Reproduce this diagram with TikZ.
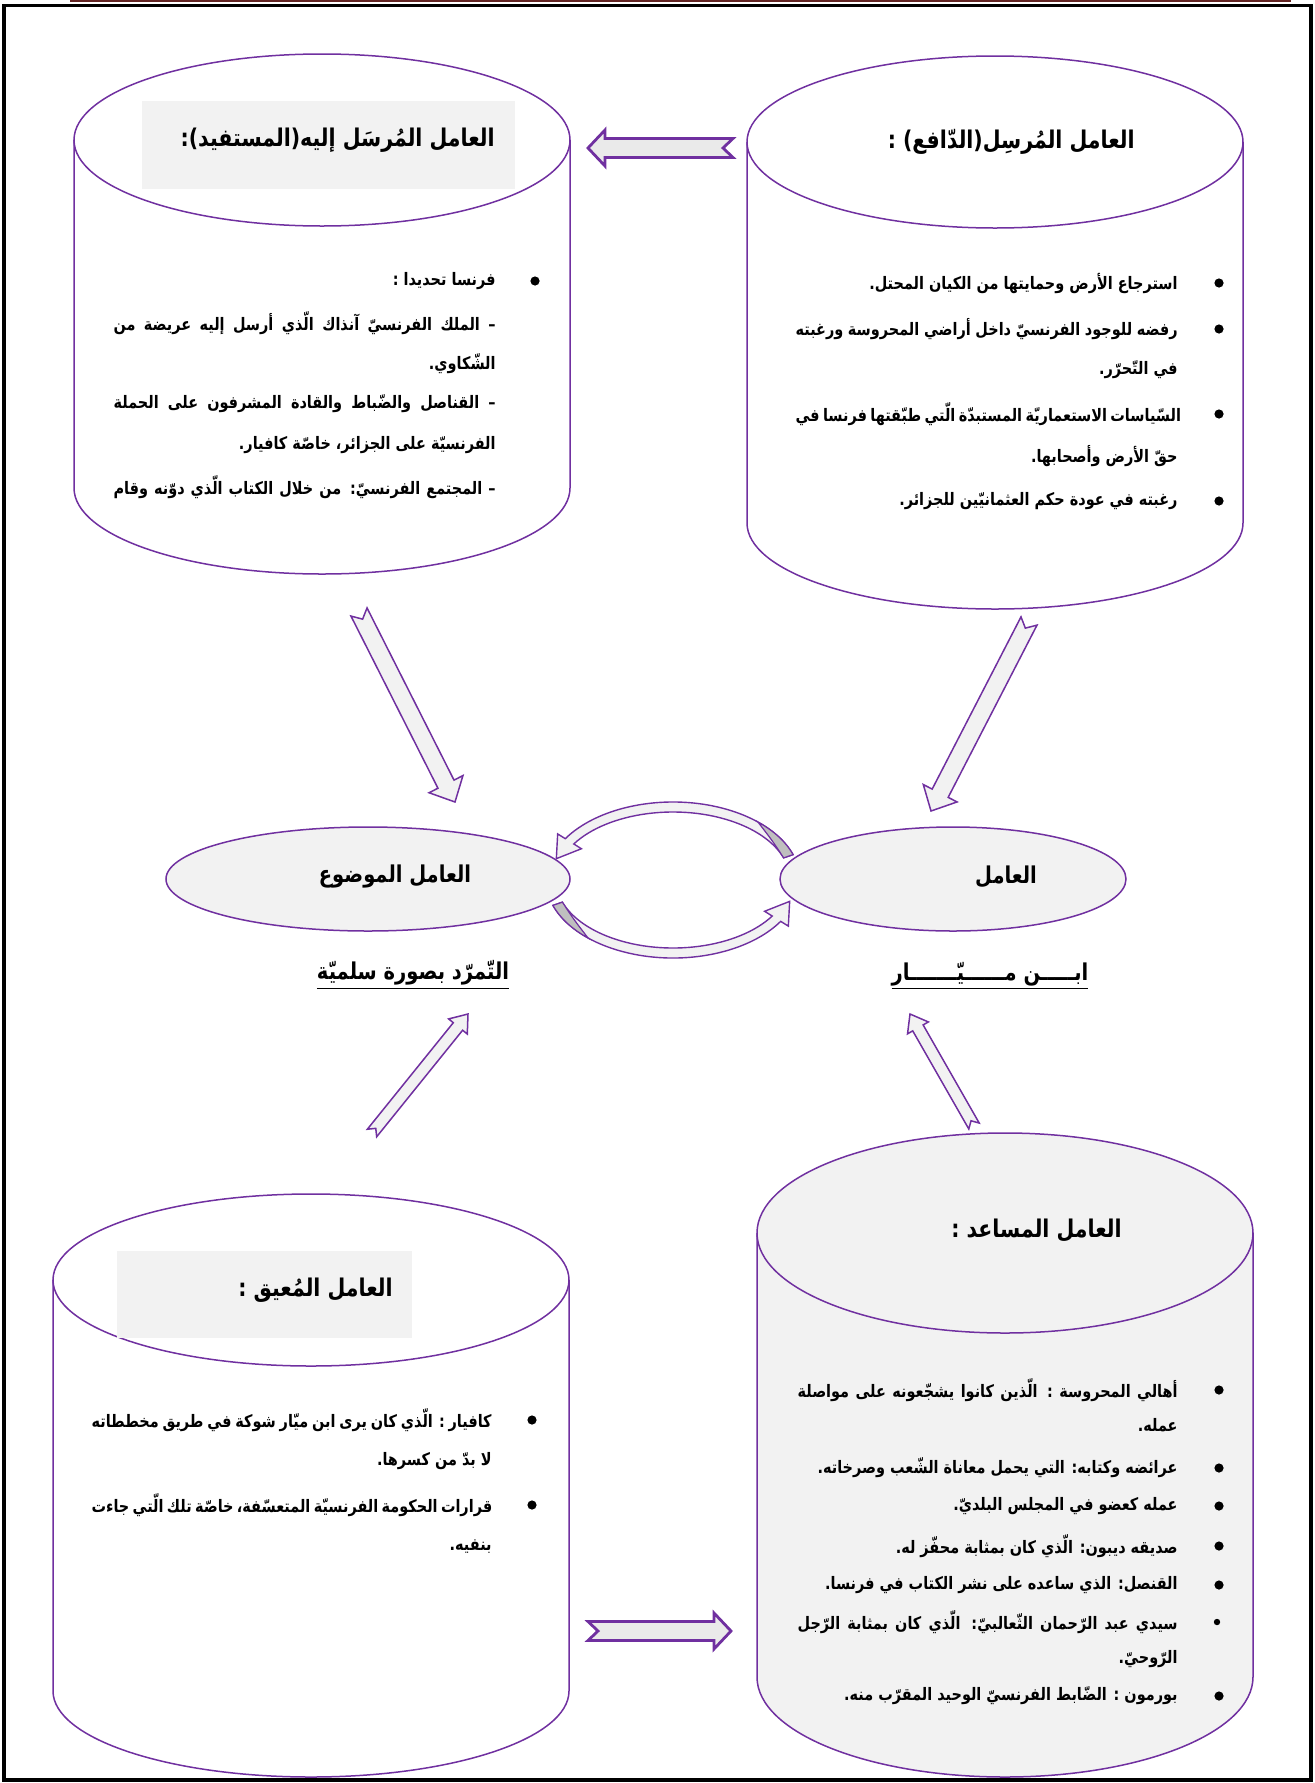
\documentclass[tikz,border=0pt]{standalone}
\usepackage{fontspec}
\usetikzlibrary{calc,shapes.geometric}
\TeXXeTstate=1
\newfontfamily\arabicfont[Script=Arabic,FakeStretch=0.84]{DejaVu Sans}
\definecolor{vio}{HTML}{7030A0}
\definecolor{lg}{HTML}{F2F2F2}
\definecolor{hg}{HTML}{EAEAEA}
\definecolor{ag}{HTML}{BFBFBF}
\definecolor{dred}{HTML}{632423}
% block arrow: style, tail, tip, half shaft, half head, head length, notch
\newcommand\blockarrow[7]{%
  \coordinate (hb) at ($(#3)!#6!(#2)$);
  \coordinate (nt) at ($(#2)!#7!(#3)$);
  \path[#1] ($(#2)!#4!90:(#3)$) -- ($(hb)!#4!90:(#3)$) -- ($(hb)!#5!90:(#3)$) -- (#3)
    -- ($(hb)!#5!-90:(#3)$) -- ($(hb)!#4!-90:(#3)$) -- ($(#2)!#4!-90:(#3)$) -- (nt) -- cycle;}
\begin{document}
\begin{tikzpicture}[x=0.5pt,y=-0.5pt,
  cyl/.style={draw=vio, line width=0.75pt},
  body/.style={font=\arabicfont\bfseries\fontsize{8.6}{10}\selectfont, inner sep=0pt, anchor=east},
  ttl/.style={font=\arabicfont\bfseries\fontsize{12.2}{14}\selectfont, inner sep=0pt, anchor=east},
  midt/.style={font=\arabicfont\bfseries\fontsize{11.6}{14}\selectfont, inner sep=0pt},
  bul/.style={circle, fill=black, inner sep=0pt, minimum size=4.6pt},
  sbul/.style={circle, fill=black, inner sep=0pt, minimum size=3.2pt},
  ellnode/.style={ellipse, draw=vio, fill=lg, line width=0.75pt, inner sep=0pt},
  barrow/.style={draw=vio, fill=lg, line width=0.75pt, line join=miter},
  harrow/.style={draw=vio, fill=hg, line width=1.4pt, line join=miter},
  carrow/.style={draw=vio, fill=lg, line width=0.7pt, line join=miter},
]
\useasboundingbox (0,0) rectangle (1315,1783);
% frame
\draw[dred, line width=1pt] (70,1) -- (1291,1);
\draw[line width=1.6pt] (4,5.5) rectangle (1311,1780);

% ---------- top-left cylinder
\path[fill=white] (74,140) -- (74,488) arc[start angle=180,end angle=0,x radius=248,y radius=86] -- (570,140) -- cycle;
\draw[cyl] (74,140) -- (74,488) arc[start angle=180,end angle=0,x radius=248,y radius=86] -- (570,140);
\draw[cyl, fill=white] (322,140) ellipse[x radius=248, y radius=86];
\fill[lg] (142,101) rectangle (515,189);
\node[ttl] (tlT) at (495,140) {\beginR العامل المُرسَل إليه(المستفيد):\endR};
\node[bul] (tlb1) at (535,281) {};
\node[body] (tl1) at (496,281) {\beginR فرنسا تحديدا :\endR};
\node[body] (tl2) at (496,323) {\hbox to 191pt{\beginR – الملك الفرنسيّ آنذاك الّذي أرسل إليه عريضة من\endR}};
\node[body] (tl3) at (496,364) {\beginR الشّكاوي.\endR};
\node[body] (tl4) at (496,404) {\hbox to 191pt{\beginR – القناصل والضّباط والقادة المشرفون على الحملة\endR}};
\node[body] (tl5) at (496,445) {\beginR الفرنسيّة على الجزائر، خاصّة كافيار.\endR};
\node[body] (tl6) at (496,487) {\hbox to 191pt{\beginR – المجتمع الفرنسيّ: من خلال الكتاب الّذي دوّنه وقام\endR}};

% ---------- top-right cylinder
\path[fill=white] (747,142) -- (747,523) arc[start angle=180,end angle=0,x radius=248,y radius=86] -- (1243,142) -- cycle;
\draw[cyl] (747,142) -- (747,523) arc[start angle=180,end angle=0,x radius=248,y radius=86] -- (1243,142);
\draw[cyl, fill=white] (995,142) ellipse[x radius=248, y radius=86];
\node[ttl] (trT) at (1135,142) {\beginR العامل المُرسِل(الدّافع) :\endR};
\node[bul] (trb1) at (1219,283) {};
\node[body] (tr1) at (1178,283) {\beginR استرجاع الأرض وحمايتها من الكيان المحتل.\endR};
\node[bul] (trb2) at (1219,329) {};
\node[body] (tr2) at (1178,329) {\hbox to 191pt{\beginR رفضه للوجود الفرنسيّ داخل أراضي المحروسة ورغبته\endR}};
\node[body] (tr3) at (1178,370) {\beginR في التّحرّر.\endR};
\node[bul] (trb3) at (1219,414) {};
\node[body] (tr4) at (1178,414) {\hbox to 191pt{\beginR السّياسات الاستعماريّة المستبدّة الّتي طبّقتها فرنسا في\endR}};
\node[body] (tr5) at (1178,456) {\beginR حقّ الأرض وأصحابها.\endR};
\node[bul] (trb4) at (1219,501) {};
\node[body] (tr6) at (1178,501) {\beginR رغبته في عودة حكم العثمانيّين للجزائر.\endR};

% ---------- bottom-right cylinder
\path[fill=lg] (757,1233) -- (757,1677) arc[start angle=180,end angle=0,x radius=248,y radius=100] -- (1253,1233) -- cycle;
\draw[cyl] (757,1233) -- (757,1677) arc[start angle=180,end angle=0,x radius=248,y radius=100] -- (1253,1233);
\draw[cyl, fill=lg] (1005,1233) ellipse[x radius=248, y radius=100];
\node[ttl] (brT) at (1122,1230) {\beginR العامل المساعد :\endR};
\node[bul] (brb1) at (1219,1390) {};
\node[body] (br1) at (1178,1390) {\hbox to 190pt{\beginR أهالي المحروسة : الّذين كانوا يشجّعونه على مواصلة\endR}};
\node[body] (br2) at (1178,1425) {\beginR عمله.\endR};
\node[bul] (brb2) at (1219,1468) {};
\node[body] (br3) at (1178,1468) {\beginR عرائضه وكتابه: التي يحمل معاناة الشّعب وصرخاته.\endR};
\node[bul] (brb3) at (1219,1506) {};
\node[body] (br4) at (1178,1506) {\beginR عمله كعضو في المجلس البلديّ.\endR};
\node[bul] (brb4) at (1219,1546) {};
\node[body] (br5) at (1178,1546) {\beginR صديقه ديبون: الّذي كان بمثابة محفّز له.\endR};
\node[bul] (brb5) at (1219,1585) {};
\node[body] (br6) at (1178,1585) {\beginR القنصل: الذي ساعده على نشر الكتاب في فرنسا.\endR};
\node[sbul] (brb6) at (1217,1622) {};
\node[body] (br7) at (1178,1622) {\hbox to 190pt{\beginR سيدي عبد الرّحمان الثّعالبيّ: الّذي كان بمثابة الرّجل\endR}};
\node[body] (br8) at (1178,1659) {\beginR الرّوحيّ.\endR};
\node[bul] (brb7) at (1219,1696) {};
\node[body] (br9) at (1178,1696) {\beginR بورمون : الضّابط الفرنسيّ الوحيد المقرّب منه.\endR};

% ---------- bottom-left cylinder
\path[fill=white] (53,1280) -- (53,1691) arc[start angle=180,end angle=0,x radius=258,y radius=86] -- (569,1280) -- cycle;
\draw[cyl] (53,1280) -- (53,1691) arc[start angle=180,end angle=0,x radius=258,y radius=86] -- (569,1280);
\draw[cyl, fill=white] (311,1280) ellipse[x radius=258, y radius=86];
\fill[lg] (117,1251) rectangle (412,1338);
\node[ttl] (blT) at (393,1290) {\beginR العامل المُعيق :\endR};
\node[bul] (blb1) at (532,1420) {};
\node[body] (bl1) at (492,1420) {\hbox to 200pt{\beginR كافيار : الّذي كان يرى ابن ميّار شوكة في طريق مخططاته\endR}};
\node[body] (bl2) at (492,1461) {\beginR لا بدّ من كسرها.\endR};
\node[bul] (blb2) at (532,1505) {};
\node[body] (bl3) at (492,1505) {\hbox to 200pt{\beginR قرارات الحكومة الفرنسيّة المتعسّفة، خاصّة تلك الّتي جاءت\endR}};
\node[body] (bl4) at (492,1547) {\beginR بنفيه.\endR};

% ---------- middle ellipses
\node[ellnode, minimum width=202pt, minimum height=52pt] (objE) at (368,879) {};
\node[ellnode, minimum width=173pt, minimum height=52pt] (subE) at (953,879) {};
\node[midt] (objT) at (395,877) {\beginR العامل الموضوع\endR};
\node[midt] (subT) at (1006,877) {\beginR العامل\endR};
\node[midt] (objL) at (413,975) {\underline{\beginR التّمرّد بصورة سلميّة\endR}};
\node[midt] (subL) at (990,976) {\underline{\beginR ابـــــن مــــــيّـــــــار\endR}};

% ---------- curved arrows
\path[carrow] ({673+127*cos(-19)},{880+78*sin(-19)}) arc[start angle=-19,end angle=-148,x radius=127,y radius=78]
  -- ({673+136*cos(-148)},{880+87*sin(-148)}) -- ({673+122*cos(-163)},{880+73*sin(-163)})
  -- ({673+108*cos(-148)},{880+59*sin(-148)}) -- ({673+117*cos(-148)},{880+68*sin(-148)})
  arc[start angle=-148,end angle=-19,x radius=117,y radius=68] -- cycle;
\path[fill=ag, draw=vio, line width=0.6pt] ({673+127*cos(-19)},{880+78*sin(-19)}) arc[start angle=-19,end angle=-48,x radius=127,y radius=78]
  .. controls ({673+119*cos(-33)},{880+71*sin(-33)}) .. ({673+117*cos(-19)},{880+68*sin(-19)}) -- cycle;
\path[carrow] ({673+127*cos(161)},{880+78*sin(161)}) arc[start angle=161,end angle=32,x radius=127,y radius=78]
  -- ({673+136*cos(32)},{880+87*sin(32)}) -- ({673+122*cos(17)},{880+73*sin(17)})
  -- ({673+108*cos(32)},{880+59*sin(32)}) -- ({673+117*cos(32)},{880+68*sin(32)})
  arc[start angle=32,end angle=161,x radius=117,y radius=68] -- cycle;
\path[fill=ag, draw=vio, line width=0.6pt] ({673+127*cos(161)},{880+78*sin(161)}) arc[start angle=161,end angle=132,x radius=127,y radius=78]
  .. controls ({673+119*cos(147)},{880+71*sin(147)}) .. ({673+117*cos(161)},{880+68*sin(161)}) -- cycle;

% ---------- straight block arrows
\coordinate (aTt) at (733,148);  \coordinate (aTh) at (588,148);
\blockarrow{harrow}{aTt}{aTh}{4.75pt}{9pt}{8.5pt}{5pt}
\coordinate (aBt) at (588,1631); \coordinate (aBh) at (731,1631);
\blockarrow{harrow}{aBt}{aBh}{4.75pt}{9pt}{8.5pt}{5pt}
\coordinate (d1t) at (359,612);  \coordinate (d1h) at (455,802);
\blockarrow{barrow}{d1t}{d1h}{4.5pt}{9.5pt}{10pt}{4pt}
\coordinate (d2t) at (1029,621); \coordinate (d2h) at (931,811);
\blockarrow{barrow}{d2t}{d2h}{4.5pt}{9.5pt}{10pt}{4pt}
\coordinate (d3t) at (372,1133); \coordinate (d3h) at (468,1014);
\blockarrow{barrow}{d3t}{d3h}{3pt}{6pt}{8pt}{3pt}
\coordinate (d4t) at (974,1126); \coordinate (d4h) at (910,1014);
\blockarrow{barrow}{d4t}{d4h}{3pt}{6pt}{8pt}{3pt}
\end{tikzpicture}
\end{document}
